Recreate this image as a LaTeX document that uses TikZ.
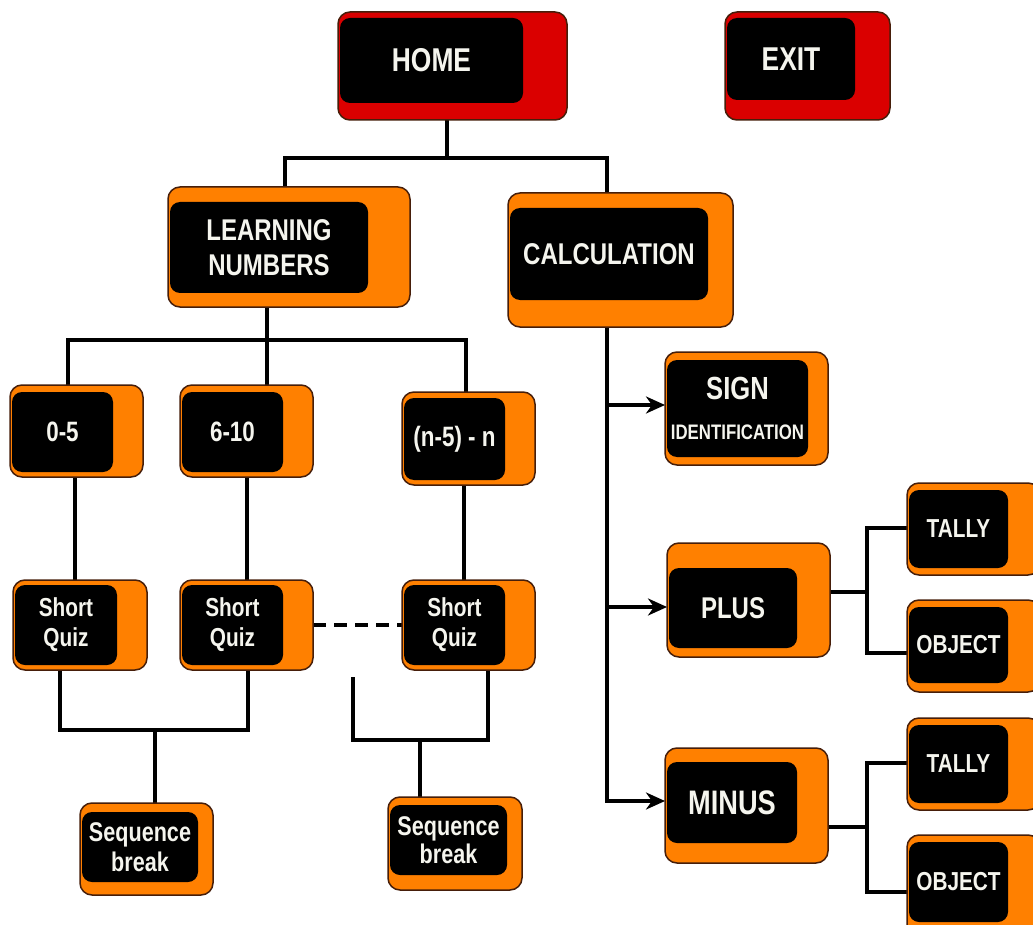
\documentclass[tikz,border=0pt]{standalone}
\usepackage{fontspec}
\newfontfamily\lbl[FakeStretch=0.8]{Liberation Sans}
\usetikzlibrary{arrows.meta,backgrounds}
\definecolor{boxorange}{RGB}{255,128,0}
\definecolor{boxred}{RGB}{218,0,0}
\definecolor{boxedge}{RGB}{70,30,10}
\definecolor{txt}{RGB}{245,245,238}
\newcommand\fs[1]{\lbl\bfseries\fontsize{#1}{#1}\selectfont}
% outer box: #1 colour, #2 name, #3 x1, #4 y1, #5 x2, #6 y2
\newcommand\outerbox[6]{\node[obox, fill=#1, minimum width={#5-#3}, minimum height={#6-#4}] (#2) at (#3,#4) {};}
% inner box: #1 font size, #2 name, #3 x1, #4 y1, #5 x2, #6 y2, #7 text
\newcommand\innerbox[7]{\node[ibox, font=\fs{#1}, minimum width={#5-#3}, minimum height={#6-#4}] (#2) at (#3,#4) {#7};}
\tikzset{
  obox/.style={draw=boxedge, line width=1.5pt, rounded corners=12pt, anchor=north west, inner sep=0pt, outer sep=0pt},
  ibox/.style={fill=black, rounded corners=10pt, anchor=north west, inner sep=0pt, outer sep=0pt, text=txt, align=center},
  conn/.style={draw=black, line width=3.3pt},
  arr/.style={conn, -{Stealth[length=19pt,width=17pt,inset=6pt]}},
  dashconn/.style={conn, dash pattern=on 13pt off 8pt},
}
\begin{document}
\begin{tikzpicture}[x=1pt,y=-1pt]
\useasboundingbox (0,0) rectangle (1033,925);
\begin{scope}[on background layer]
\fill[white] (0,0) rectangle (1033,925);
\end{scope}

% ---- boxes ----
\outerbox{boxred}{home}{338}{12}{567}{120}
\innerbox{33}{homei}{340}{18}{523}{103}{HOME}
\outerbox{boxred}{exit}{725}{12}{890}{120}
\innerbox{33}{exiti}{727}{18}{855}{100}{EXIT}

\outerbox{boxorange}{learn}{168}{187}{410}{307}
\innerbox{30}{learni}{170}{202}{368}{293}{LEARNING\\[5pt]NUMBERS}
\outerbox{boxorange}{calc}{508}{193}{733}{327}
\innerbox{30}{calci}{510}{208}{708}{300}{CALCULATION}

\outerbox{boxorange}{r05}{10}{385}{143}{477}
\innerbox{28}{r05i}{12}{392}{113}{472}{0-5}
\outerbox{boxorange}{r610}{180}{385}{313}{477}
\innerbox{28}{r610i}{182}{392}{283}{472}{6-10}
\outerbox{boxorange}{rn}{402}{392}{535}{485}
\innerbox{28}{rni}{404}{398}{505}{480}{(n-5) - n}

\outerbox{boxorange}{sign}{665}{352}{828}{465}
\innerbox{32}{signi}{667}{360}{808}{457}{SIGN\\[8pt]{\fs{21}IDENTIFICATION}}

\outerbox{boxorange}{q1}{13}{580}{147}{670}
\innerbox{26}{q1i}{15}{585}{117}{665}{Short\\[4pt]Quiz}
\outerbox{boxorange}{q2}{180}{580}{313}{670}
\innerbox{26}{q2i}{182}{585}{283}{665}{Short\\[4pt]Quiz}
\outerbox{boxorange}{q3}{402}{580}{535}{670}
\innerbox{26}{q3i}{404}{585}{505}{665}{Short\\[4pt]Quiz}

\outerbox{boxorange}{s1}{80}{803}{213}{895}
\innerbox{27}{s1i}{82}{812}{198}{882}{Sequence\\[3pt]break}
\outerbox{boxorange}{s2}{388}{797}{522}{890}
\innerbox{27}{s2i}{390}{805}{507}{875}{Sequence\\[1pt]break}

\outerbox{boxorange}{plus}{667}{543}{830}{657}
\innerbox{30}{plusi}{669}{568}{797}{648}{PLUS}
\outerbox{boxorange}{minus}{665}{748}{828}{863}
\innerbox{34}{minusi}{667}{762}{797}{843}{MINUS}

\outerbox{boxorange}{t1}{907}{483}{1040}{575}
\innerbox{26}{t1i}{909}{490}{1008}{568}{TALLY}
\outerbox{boxorange}{o1}{907}{600}{1040}{692}
\innerbox{26}{o1i}{909}{607}{1008}{683}{OBJECT}
\outerbox{boxorange}{t2}{907}{718}{1040}{810}
\innerbox{26}{t2i}{909}{725}{1008}{803}{TALLY}
\outerbox{boxorange}{o2}{907}{835}{1040}{940}
\innerbox{26}{o2i}{909}{842}{1008}{922}{OBJECT}

% ---- connectors ----
\begin{scope}[on background layer]
\coordinate (j1) at (447,158);
\draw[conn] (447,0 |- home.south) -- (j1);
\draw[conn] (285,0 |- learn.north) |- (j1) -| (607,0 |- calc.north);

\coordinate (j2) at (267,340);
\draw[conn] (267,0 |- learn.south) -- (j2);
\draw[conn] (68,0 |- r05.north) |- (j2) -| (466,0 |- rn.north);
\draw[conn] (267,0 |- r610.north) -- (j2);

\draw[conn] (75,0 |- r05.south) -- (75,0 |- q1.north);
\draw[conn] (247,0 |- r610.south) -- (247,0 |- q2.north);
\draw[conn] (464,0 |- rn.south) -- (464,0 |- q3.north);

\draw[dashconn] (q2.east) -- (q3.west);

\coordinate (j3) at (155,730);
\draw[conn] (60,0 |- q1.south) |- (j3) -| (248,0 |- q2.south);
\draw[conn] (j3) -- (155,0 |- s1.north);

\coordinate (free) at (353,677);
\coordinate (j4) at (420,740);
\draw[conn] (free) |- (j4) -| (488,0 |- q3.south);
\draw[conn] (j4) -- (420,0 |- s2.north);

\coordinate (trunk) at (607,803);
\draw[conn] (607,0 |- calc.south) -- (trunk);

\coordinate (j5) at (867,592);
\draw[conn] (0,592 -| plus.east) -- (j5);
\draw[conn] (0,528 -| t1.west) -| (867,653) -- (0,653 -| o1.west);
\coordinate (j6) at (867,827);
\draw[conn] (0,827 -| minus.east) -- (j6);
\draw[conn] (0,763 -| t2.west) -| (867,892) -- (0,892 -| o2.west);
\end{scope}
\draw[arr] (607,405) -- (0,405 -| sign.west);
\draw[arr] (607,607) -- (0,607 -| plus.west);
\draw[arr] (607,801) -- (0,801 -| minus.west);
\end{tikzpicture}
\end{document}
